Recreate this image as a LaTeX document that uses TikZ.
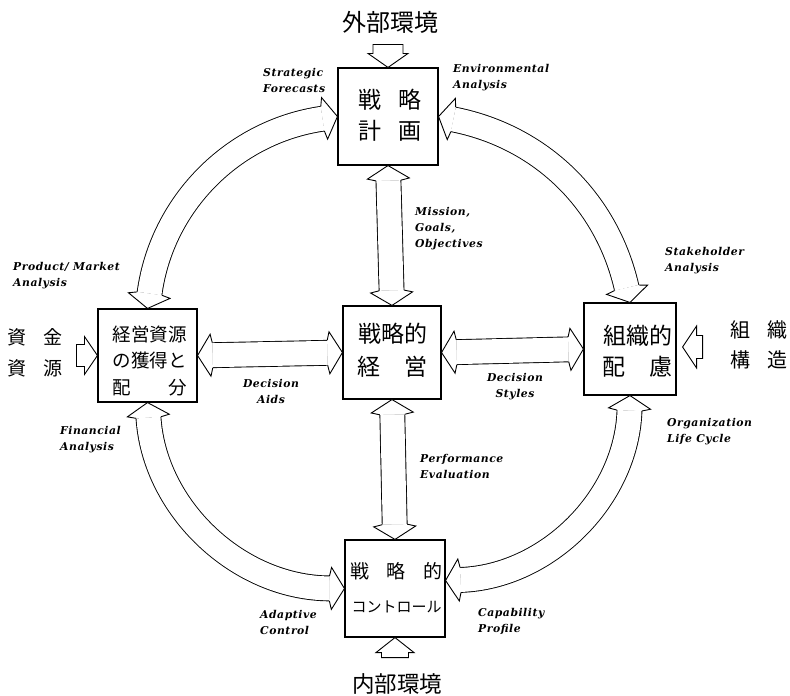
\documentclass[tikz,border=0pt]{standalone}
\usepackage{fontspec}
\newfontfamily\jp{Noto Sans CJK JP}
\newfontfamily\lab[LetterSpace=5]{DejaVu Serif}
\usetikzlibrary{decorations.markings}
\begin{document}
\begin{tikzpicture}[x=1pt,y=1pt,
  lw/.style={line width=0.9pt},
  box/.style={draw, line width=1.1pt, inner sep=0pt},
  jtext/.style={align=center, inner sep=0pt},
  elab/.style={font={\lab\bfseries\itshape\fontsize{10.8}{16}\selectfont}, inner sep=0pt, align=left},
  elabc/.style={elab, align=center},
  bandarrow/.style={
    preaction={draw, double=white, double distance=24pt, line width=0.9pt,
      shorten <=15pt, shorten >=15pt},
    postaction={decorate, decoration={markings,
      mark=at position 0 with {\draw[lw, fill=white] (15pt,12.45pt) -- (13pt,21pt) -- (0pt,0pt) -- (13pt,-21pt) -- (15pt,-12.45pt);},
      mark=at position 0.9999 with {\draw[lw, fill=white] (-15pt,12.45pt) -- (-13pt,21pt) -- (0pt,0pt) -- (-13pt,-21pt) -- (-15pt,-12.45pt);}}}
  }
]
\useasboundingbox (0,0) rectangle (790,-696);
\fill[white] (0,0) rectangle (790,-696);

% boxes
\node[box, minimum width=100pt, minimum height=97pt] (plan) at (388,-116.5) {};
\node[box, minimum width=98pt, minimum height=93pt] (mgmt) at (392,-352.5) {};
\node[box, minimum width=99pt, minimum height=93pt] (alloc) at (147.5,-355.5) {};
\node[box, minimum width=92pt, minimum height=92pt] (org) at (630,-349) {};
\node[box, minimum width=100pt, minimum height=97pt] (ctrl) at (395,-588.5) {};

% box texts
\node[jtext, font={\jp\fontsize{23}{31}\selectfont}] (planT) at (390,-115)
  {\makebox[64pt][s]{戦\hfill{}略}\\\makebox[64pt][s]{計\hfill{}画}};
\node[jtext, font={\jp\fontsize{23}{33}\selectfont}] (mgmtT) at (392.5,-350.5)
  {戦略的\\\makebox[71pt][s]{経\hfill{}営}};
\node[jtext, font={\jp\fontsize{18.5}{26.5}\selectfont}] (allocT) at (149.5,-360.5)
  {経営資源\\の獲得と\\\makebox[75pt][s]{配\hfill{}分}};
\node[jtext, font={\jp\fontsize{23}{31}\selectfont}] (orgT) at (637.5,-351.5)
  {組織的\\\makebox[71pt][s]{配\hfill{}慮}};
\node[jtext, font={\jp\fontsize{19}{34}\selectfont}] (ctrlT) at (396,-588)
  {\makebox[92pt][s]{戦\hfill{}略\hfill{}的}\\{\fontsize{15}{34}\selectfont\makebox[89pt][s]{コ\hfill{}ン\hfill{}ト\hfill{}ロ\hfill{}ー\hfill{}ル}}};

% outer texts
\node[jtext, font={\jp\fontsize{24}{30}\selectfont}] (ext) at (390,-22) {外部環境};
\node[jtext, font={\jp\fontsize{22.5}{30}\selectfont}] (int) at (397,-684) {内部環境};
\node[jtext, font={\jp\fontsize{19}{31}\selectfont}] (fund) at (35,-352.5)
  {\makebox[56pt][s]{資\hfill{}金}\\\makebox[56pt][s]{資\hfill{}源}};
\node[jtext, font={\jp\fontsize{20}{30}\selectfont}] (struct) at (758.5,-345)
  {\makebox[57pt][s]{組\hfill{}織}\\\makebox[57pt][s]{構\hfill{}造}};

% input arrows
\draw[lw, fill=white] (plan.north) -- ++(-20,14) -- ++(5,0) -- ++(0,9) -- ++(30,0) -- ++(0,-9) -- ++(5,0) -- cycle;
\draw[lw, fill=white] (ctrl.south) -- ++(-19,-15) -- ++(5.5,0) -- ++(0,-5) -- ++(27,0) -- ++(0,5) -- ++(5.5,0) -- cycle;
\draw[lw, fill=white] (alloc.west) -- ++(-13,19) -- ++(0,-8) -- ++(-8,0) -- ++(0,-22) -- ++(8,0) -- ++(0,-8) -- cycle;
\coordinate (orgin) at ([xshift=6pt,yshift=2pt]org.east);
\draw[lw, fill=white] (orgin) -- ++(14,21) -- ++(0,-9.5) -- ++(6,0) -- ++(0,-23) -- ++(-6,0) -- ++(0,-9.5) -- cycle;

% straight double arrows
\path[bandarrow] (plan.south) -- (mgmt.north);
\path[bandarrow] (mgmt.south) -- (ctrl.north);
\path[bandarrow] (alloc.east) -- (mgmt.west);
\path[bandarrow] (mgmt.east) -- (org.west);

% curved double arrows
\coordinate (ctrlE) at ([yshift=8pt]ctrl.east);
\path[bandarrow] (alloc.north) to[bend left=37] (plan.west);
\path[bandarrow] (plan.east) to[bend left=33] (org.north);
\path[bandarrow] (org.south) to[bend left=43] (ctrlE);
\path[bandarrow] (ctrl.west) to[bend left=43] (alloc.south);

% english labels
\node[elab, anchor=west] (l1) at (263,-80) {Strategic\\Forecasts};
\node[elab, anchor=west] (l2) at (453,-78) {Environmental\\Analysis};
\node[elab, anchor=west] (l3) at (415,-229) {Mission,\\Goals,\\Objectives};
\node[elab, anchor=west] (l4) at (13,-275.5) {Product/ Market\\Analysis};
\node[elab, anchor=west] (l5) at (665,-261) {Stakeholder\\Analysis};
\node[elabc] (l6) at (271,-391) {Decision\\Aids};
\node[elabc] (l7) at (515,-387) {Decision\\Styles};
\node[elab, anchor=west] (l8) at (60,-440) {Financial\\Analysis};
\node[elab, anchor=west] (l9) at (667,-431.5) {Organization\\Life Cycle};
\node[elab, anchor=west] (l10) at (420,-466) {Performance\\Evaluation};
\node[elab, anchor=west] (l11) at (260,-622) {Adaptive\\Control};
\node[elab, anchor=west] (l12) at (478,-621) {Capability\\Profile};
\end{tikzpicture}
\end{document}
